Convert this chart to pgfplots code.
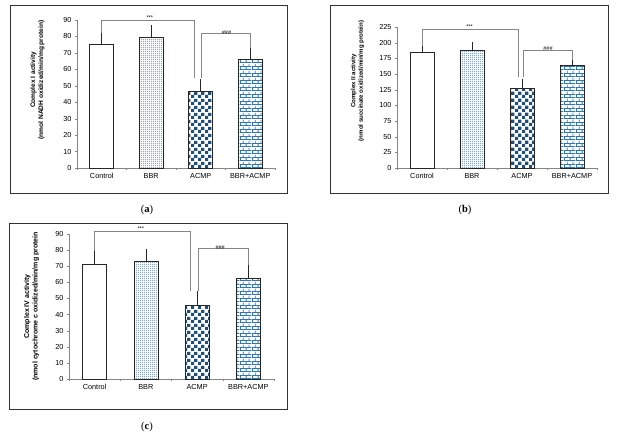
\documentclass[border=0pt]{standalone}
\usepackage{pgfplots}
\pgfplotsset{compat=1.18}
\usepackage{fontspec}
\setmainfont{Liberation Sans}
\newfontfamily\capfont{Liberation Serif}
\usetikzlibrary{patterns.meta}

\definecolor{navy}{HTML}{1F4E79}
\definecolor{brickblue}{HTML}{2E75B6}
\definecolor{dotblue}{HTML}{8FA6C2}
\definecolor{axgray}{HTML}{868686}

\tikzdeclarepattern{
  name=chk, type=uncolored,
  bounding box={(0pt,0pt) and (6.6pt,6.6pt)},
  tile size={(6.6pt,6.6pt)},
  code={
    \fill (0pt,0pt) rectangle (3.3pt,3.3pt);
    \fill (3.3pt,3.3pt) rectangle (6.6pt,6.6pt);
  }
}
\tikzdeclarepattern{
  name=brk, type=uncolored,
  bounding box={(0pt,0pt) and (12pt,6.6pt)},
  tile size={(12pt,6.6pt)},
  code={
    \fill (0pt,0pt) rectangle (12pt,0.9pt);
    \fill (0pt,3.3pt) rectangle (12pt,4.2pt);
    \fill (0pt,0pt) rectangle (0.9pt,3.3pt);
    \fill (6pt,0pt) rectangle (6.9pt,3.3pt);
    \fill (3pt,3.3pt) rectangle (3.9pt,6.6pt);
    \fill (9pt,3.3pt) rectangle (9.9pt,6.6pt);
  }
}
\tikzdeclarepattern{
  name=dts, type=uncolored,
  bounding box={(0pt,0pt) and (2.4pt,2.4pt)},
  tile size={(2.4pt,2.4pt)},
  code={\fill (0.3pt,0.3pt) rectangle (1.5pt,1.5pt);}
}

\tikzset{
  bline/.style={axgray, line width=0.7pt},
  sig/.style={font=\fontsize{5.5}{5.5}\selectfont, inner sep=0.5pt, anchor=south},
}

\pgfplotsset{
  cbar/.style={
    scale only axis, ybar, bar width=24pt, bar shift=0pt,
    xmin=-0.5, xmax=3.5, ymin=0, clip=false,
    axis x line*=bottom, axis y line*=left,
    axis line style={axgray, -},
    xtick={-0.5,0.5,1.5,2.5,3.5},
    xticklabels={Control,BBR,ACMP,BBR+ACMP},
    x tick label as interval,
    tick align=outside, major tick length=2pt,
    tick style={axgray},
    tick label style={font=\fontsize{7.3}{8}\selectfont},
    /pgf/number format/assume math mode=true,
    ylabel style={align=center, anchor=center},
    error bars/y dir=plus, error bars/y explicit,
    error bars/error mark=-,
    error bars/error bar style={draw=black!85, solid, line width=0.6pt},
    error bars/error mark options={draw=black!85, solid, line width=0.7pt, mark size=3pt},
  },
  b0/.style={draw=black!85, fill=white, line width=0.6pt},
  b1/.style={draw=black!85, fill=white, line width=0.6pt, pattern=dts, pattern color=dotblue},
  b2/.style={draw=black!85, fill=white, line width=0.6pt, pattern=chk, pattern color=navy},
  b3/.style={draw=black!85, fill=white, line width=0.6pt, pattern=brk, pattern color=brickblue},
}

\begin{document}
\begin{tikzpicture}
\useasboundingbox (0pt,0pt) rectangle (618pt,445pt);

% frames
\draw[black!80, line width=0.6pt] (10pt,252pt) rectangle (287pt,440pt);
\draw[black!80, line width=0.6pt] (330pt,252pt) rectangle (608pt,440pt);
\draw[black!80, line width=0.6pt] (9pt,36pt) rectangle (287pt,222pt);

% panel labels
\node[font=\capfont\fontsize{10.5}{12}\selectfont] at (147pt,235pt) {(\textbf{a})};
\node[font=\capfont\fontsize{10.5}{12}\selectfont] at (465pt,235pt) {(\textbf{b})};
\node[font=\capfont\fontsize{10.5}{12}\selectfont] at (147pt,18pt) {(\textbf{c})};

% (a) Complex I
\begin{axis}[cbar, at={(77pt,277pt)}, anchor=south west,
  width=198pt, height=148pt, ymax=90, ytick={0,10,...,90},
  ylabel style={at={(axis description cs:-0.2,0.595)}, font=\bfseries\fontsize{6.6}{8}\selectfont},
  ylabel={Complex I activity\\(nmol NADH oxidized/min/mg protein)}]
\addplot[b0] coordinates {(0,75.5) +- (0,5.5)};
\addplot[b1] coordinates {(1,79.5) +- (0,5.5)};
\addplot[b2] coordinates {(2,46.5) +- (0,6)};
\addplot[b3] coordinates {(3,66) +- (0,5)};
\draw[bline] (axis cs:0,81.8) -- (axis cs:0,89.5) -- (axis cs:1.88,89.5) -- (axis cs:1.88,55);
\draw[bline] (axis cs:2.02,55) -- (axis cs:2.02,82) -- (axis cs:3,82) -- (axis cs:3,73);
\node[sig] at (axis cs:0.97,89.8) {***};
\node[sig] at (axis cs:2.52,81) {\#\#\#};
\end{axis}

% (b) Complex II
\begin{axis}[cbar, at={(397pt,277pt)}, anchor=south west,
  width=200pt, height=141pt, ymax=225, ytick={0,25,...,225},
  ylabel style={at={(axis description cs:-0.197,0.617)}, font=\bfseries\fontsize{6.1}{7.6}\selectfont},
  ylabel={Complex II activity\\(nmol succinate oxidized/min/mg protein)}]
\addplot[b0] coordinates {(0,185) +- (0,8)};
\addplot[b1] coordinates {(1,188) +- (0,8)};
\addplot[b2] coordinates {(2,127) +- (0,11)};
\addplot[b3] coordinates {(3,163.5) +- (0,5)};
\draw[bline] (axis cs:0,194) -- (axis cs:0,220.7) -- (axis cs:1.92,220.7) -- (axis cs:1.92,145);
\draw[bline] (axis cs:2.02,145) -- (axis cs:2.02,188) -- (axis cs:3,188) -- (axis cs:3,172);
\node[sig] at (axis cs:0.95,222) {***};
\node[sig] at (axis cs:2.52,186) {\#\#\#};
\end{axis}

% (c) Complex IV
\begin{axis}[cbar, at={(69pt,66pt)}, anchor=south west,
  width=205pt, height=145pt, ymax=90, ytick={0,10,...,90},
  ylabel style={at={(axis description cs:-0.183,0.5)}, font=\bfseries\fontsize{7}{8.5}\selectfont},
  ylabel={Complex IV activity\\(nmol cytochrome c oxidized/min/mg protein}]
\addplot[b0] coordinates {(0,71.5) +- (0,7)};
\addplot[b1] coordinates {(1,73) +- (0,6)};
\addplot[b2] coordinates {(2,45.5) +- (0,7.5)};
\addplot[b3] coordinates {(3,62.5) +- (0,7)};
\draw[bline] (axis cs:0,79.5) -- (axis cs:0,91.7) -- (axis cs:1.86,91.7) -- (axis cs:1.86,54.5);
\draw[bline] (axis cs:2.02,54.5) -- (axis cs:2.02,81) -- (axis cs:3,81) -- (axis cs:3,71);
\node[sig] at (axis cs:0.9,92) {***};
\node[sig] at (axis cs:2.45,80) {\#\#\#};
\end{axis}
\end{tikzpicture}
\end{document}
